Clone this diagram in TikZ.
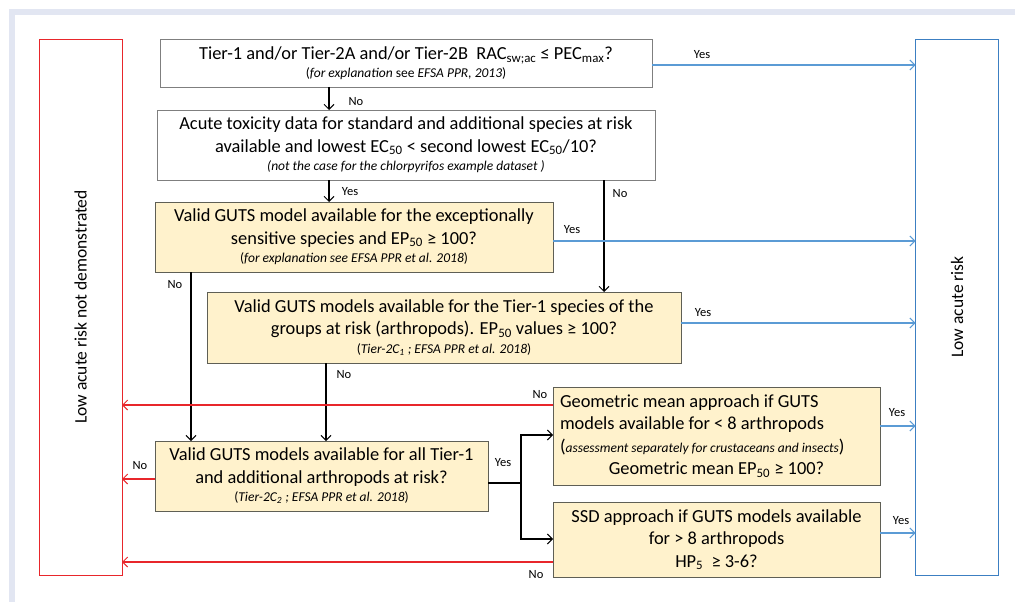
\documentclass[tikz,border=0pt]{standalone}
\usepackage{fontspec}
\setmainfont{Carlito}
\usetikzlibrary{arrows.meta,calc}
\definecolor{framec}{HTML}{E2E6F2}
\definecolor{boxfill}{HTML}{FFF2CC}
\definecolor{boxline}{HTML}{5F5F55}
\definecolor{wline}{HTML}{7F7F7F}
\definecolor{myred}{HTML}{E8262B}
\definecolor{myblue}{HTML}{5B9BD5}
\definecolor{bluebox}{HTML}{3C7FC2}
\begin{document}
\begin{tikzpicture}[x=1pt,y=-1pt,
  every node/.style={inner sep=0pt, outer sep=0pt},
  qbox/.style={draw=wline, line width=0.9pt, fill=white, align=center, font=\fontsize{18.4}{22.5}\selectfont},
  ybox/.style={qbox, draw=boxline, fill=boxfill},
  lbl/.style={font=\fontsize{12.5}{14}\selectfont, anchor=center},
  tipb/.style={-{Straight Barb[length=5pt,width=10pt,line width=1pt]}},
  blk/.style={draw=black, line width=1.2pt, tipb},
  blu/.style={draw=myblue, line width=1.5pt, tipb},
  rd/.style={draw=myred, line width=1.3pt, tipb},
  sidebox/.style={line width=0.9pt, fill=white, minimum width=83pt, minimum height=536pt},
  sidetext/.style={rotate=90, font=\fontsize{17.5}{20}\selectfont}
]
\useasboundingbox (0,0) rectangle (1015,602);
\fill[framec] (9,9) rectangle (1015,15);
\fill[framec] (9,9) rectangle (15,602);

% side boxes
\node[sidebox, draw=myred] (L) at (80.5,307) {};
\node[sidetext] (Lt) at (L.center) {Low acute risk not demonstrated};
\node[sidebox, draw=bluebox] (R) at (957,307) {};
\node[sidetext] (Rt) at (R.center) {Low acute risk};

% question boxes
\newcommand{\sm}{\fontsize{13.5}{15}\selectfont}
\node[qbox, minimum width=492pt, minimum height=48pt] (b1) at (406,63)
  {Tier-1 and/or Tier-2A and/or Tier-2B\ \ RAC\textsubscript{sw;ac} ≤ PEC\textsubscript{max}?\\[-5pt]
   {\sm(\textit{for explanation} see \textit{EFSA PPR, 2013})}};
\node[qbox, minimum width=498pt, minimum height=70pt] (b2) at (406,145)
  {Acute toxicity data for standard and additional species at risk\\
   available and lowest EC\textsubscript{50} < second lowest EC\textsubscript{50}/10?\\[-4pt]
   {\sm\itshape (not the case for the chlorpyrifos example dataset )}};
\node[ybox, minimum width=398pt, minimum height=70pt] (b3) at (354,237)
  {Valid GUTS model available for the exceptionally\\
   sensitive species and EP\textsubscript{50} ≥ 100?\\[-4pt]
   {\sm(\textit{for explanation see EFSA PPR et al. 2018})}};
\node[ybox, minimum width=474pt, minimum height=71pt] (b4) at (444,327.5)
  {Valid GUTS models available for the Tier-1 species of the\\
   groups at risk (arthropods). EP\textsubscript{50} values ≥ 100?\\[-4pt]
   {\sm(\textit{Tier-2C\textsubscript{1} ; EFSA PPR et al. 2018})}};
\node[ybox, minimum width=333pt, minimum height=70pt] (b5) at (321.5,476)
  {Valid GUTS models available for all Tier-1\\
   and additional arthropods at risk?\\[-4pt]
   {\sm(\textit{Tier-2C\textsubscript{2} ; EFSA PPR et al. 2018})}};
\node[ybox, align=flush left, text width=313pt, inner xsep=7pt, minimum height=98pt] (b6) at (716.5,436)
  {\spaceskip=0pt\xspaceskip=0pt
   Geometric mean approach if GUTS\\
   models available for < 8 arthropods\\
   ({\sm\itshape assessment separately for crustaceans and insects})\\
   \makebox[\linewidth][c]{Geometric mean EP\textsubscript{50} ≥ 100?}};
\node[ybox, minimum width=327pt, minimum height=75pt] (b7) at (716.5,539.5)
  {SSD approach if GUTS models available\\
   for > 8 arthropods\\
   HP\textsubscript{5}\ \ ≥ 3-6?};

% helper coordinates
\coordinate (xA) at (329,0);
\coordinate (xB) at (604,0);
\coordinate (xC) at (191,0);
\coordinate (xD) at (326,0);
\coordinate (xF) at (521,0);
\coordinate (y1y) at (0,65);
\coordinate (y3y) at (0,241);
\coordinate (y4y) at (0,323);
\coordinate (y6n) at (0,405);
\coordinate (y6y) at (0,426);
\coordinate (y6in) at (0,435);
\coordinate (y5n) at (0,479);
\coordinate (y5y) at (0,483);
\coordinate (y7y) at (0,533);
\coordinate (y7in) at (0,539);
\coordinate (y7n) at (0,562);

% black connectors
\draw[blk] (b1.south -| xA) -- (b2.north -| xA);
\draw[blk] (b2.south -| xA) -- (b3.north -| xA);
\draw[blk] (b2.south -| xB) -- (b4.north -| xB);
\draw[blk] (b3.south -| xC) -- (b5.north -| xC);
\draw[blk] (b4.south -| xD) -- (b5.north -| xD);
\draw[blk] (b5.east |- y5y) -- (xF |- y5y) |- (b6.west |- y6in);
\draw[blk] (xF |- y5y) |- (b7.west |- y7in);

% blue connectors
\draw[blu] (b1.east |- y1y) -- (R.west |- y1y);
\draw[blu] (b3.east |- y3y) -- (R.west |- y3y);
\draw[blu] (b4.east |- y4y) -- (R.west |- y4y);
\draw[blu] (b6.east |- y6y) -- (R.west |- y6y);
\draw[blu] (b7.east |- y7y) -- (R.west |- y7y);

% red connectors
\draw[rd] (b6.west |- y6n) -- (L.east |- y6n);
\draw[rd] (b5.west |- y5n) -- (L.east |- y5n);
\draw[rd] (b7.west |- y7n) -- (L.east |- y7n);

% labels
\node[lbl] (n1) at (356,102) {No};
\node[lbl] (n2) at (350,192) {Yes};
\node[lbl] (n3) at (620,194) {No};
\node[lbl] (n4) at (702,55) {Yes};
\node[lbl] (n5) at (572,230) {Yes};
\node[lbl] (n6) at (175,285) {No};
\node[lbl] (n7) at (703,313) {Yes};
\node[lbl] (n8) at (344,375) {No};
\node[lbl] (n9) at (540,395) {No};
\node[lbl] (n10) at (140,466) {No};
\node[lbl] (n11) at (503,463) {Yes};
\node[lbl] (n12) at (897,413) {Yes};
\node[lbl] (n13) at (901,521) {Yes};
\node[lbl] (n14) at (536,575) {No};
\end{tikzpicture}
\end{document}
